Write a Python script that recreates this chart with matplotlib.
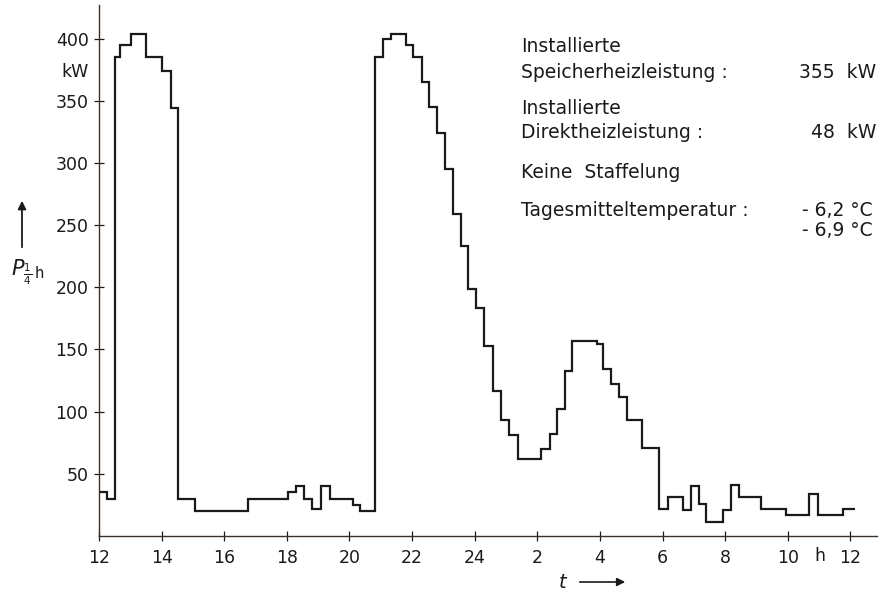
import numpy as np
import matplotlib
matplotlib.use("Agg")
import matplotlib.pyplot as plt


# ------------------------------------------------
# Quarter-hour load profile (step edges in hours, values in kW)
edges = [12.0, 12.24, 12.5, 12.67, 13.02, 13.5, 14.02, 14.29, 14.51, 15.07,
         16.77, 18.05, 18.29, 18.56, 18.8, 19.09, 19.37, 20.1, 20.34, 20.8,
         21.08, 21.32, 21.8, 22.02, 22.31, 22.55, 22.81, 23.05, 23.31, 23.55,
         23.8, 24.04, 24.3, 24.57, 24.84, 25.11, 25.38, 26.12, 26.39, 26.62,
         26.89, 27.12, 27.9, 28.11, 28.34, 28.61, 28.88, 29.34, 29.89, 30.16,
         30.65, 30.92, 31.18, 31.4, 31.93, 32.18, 32.43, 33.16, 33.95, 34.68,
         34.95, 35.75, 36.15]

power = [35, 30, 385, 395, 404, 385, 374, 344,
         30, 20, 30, 35, 40, 30, 22, 40, 30, 25, 20,
         385, 400, 404, 395, 385, 365, 345, 324, 295,
         259, 233, 199, 183, 153, 117, 93, 81, 62,
         70, 82, 102, 133, 157, 154, 134, 122, 112, 93, 71,
         22, 31, 21, 40, 26, 11, 21, 41, 31, 22, 17, 34, 17, 22]

xticks = [12, 14, 16, 18, 20, 22, 24, 26, 28, 30, 32, 34, 36]
xlabels = ["12", "14", "16", "18", "20", "22", "24", "2", "4", "6", "8", "10", "12"]
yticks = [50, 100, 150, 200, 250, 300, 350, 400]

ink = "#1c1a18"
W, H = 891, 592


def fx(px):
    return px / W


def fy(py):
    return 1 - py / H


# -------------
# Plot the curve
fig = plt.figure(figsize=(8.91, 5.92), dpi=100)
ax = fig.add_axes([fx(99), fy(536), fx(877) - fx(99), fy(5) - fy(536)])

ax.stairs(power, edges, baseline=None, color=ink, linewidth=1.6)

ax.set_xlim(12, 36.85)
ax.set_ylim(0, 427)
ax.set_xticks(xticks)
ax.set_xticklabels(xlabels)
ax.set_yticks(yticks)
ax.tick_params(direction="inout", length=7, width=0.9, colors=ink,
               labelsize=12.5, pad=4)
ax.tick_params(axis="x", pad=6)

for s in ["top", "right"]:
    ax.spines[s].set_visible(False)
for s in ["left", "bottom"]:
    ax.spines[s].set_color("#3a3028")
    ax.spines[s].set_linewidth(1.0)

# unit labels
fig.text(fx(820), fy(556), "h", ha="center", va="center", fontsize=12.5, color=ink)
fig.text(fx(89), fy(72), "kW", ha="right", va="center", fontsize=12.5, color=ink)

# axis names with arrows
fig.text(fx(11), fy(272), r"$P_{\frac{1}{4}\,\mathrm{h}}$", ha="left",
         va="center", fontsize=15, color=ink)
fig.add_artist(matplotlib.patches.FancyArrowPatch(
    (fx(22), fy(250)), (fx(22), fy(198)), transform=fig.transFigure,
    arrowstyle="-|>", mutation_scale=12, color=ink, lw=1.3))

fig.text(fx(563), fy(582), r"$t$", ha="center", va="center", fontsize=14, color=ink)
fig.add_artist(matplotlib.patches.FancyArrowPatch(
    (fx(577), fy(582)), (fx(628), fy(582)), transform=fig.transFigure,
    arrowstyle="-|>", mutation_scale=12, color=ink, lw=1.2))

# --------------
# Info text block
fs = 13.5
fig.text(fx(521), fy(47), "Installierte", fontsize=fs, color=ink, va="center")
fig.text(fx(521), fy(72), "Speicherheizleistung :", fontsize=fs, color=ink, va="center")
fig.text(fx(876), fy(72), "355  kW", fontsize=fs, color=ink, va="center", ha="right")
fig.text(fx(521), fy(108), "Installierte", fontsize=fs, color=ink, va="center")
fig.text(fx(521), fy(133), "Direktheizleistung :", fontsize=fs, color=ink, va="center")
fig.text(fx(876), fy(133), "48  kW", fontsize=fs, color=ink, va="center", ha="right")
fig.text(fx(521), fy(172), "Keine  Staffelung", fontsize=fs, color=ink, va="center")
fig.text(fx(521), fy(210), "Tagesmitteltemperatur :", fontsize=fs, color=ink, va="center")
fig.text(fx(873), fy(210), "- 6,2 °C", fontsize=fs, color=ink, va="center", ha="right")
fig.text(fx(873), fy(231), "- 6,9 °C", fontsize=fs, color=ink, va="center", ha="right")

fig.savefig("out.png", dpi=100)
